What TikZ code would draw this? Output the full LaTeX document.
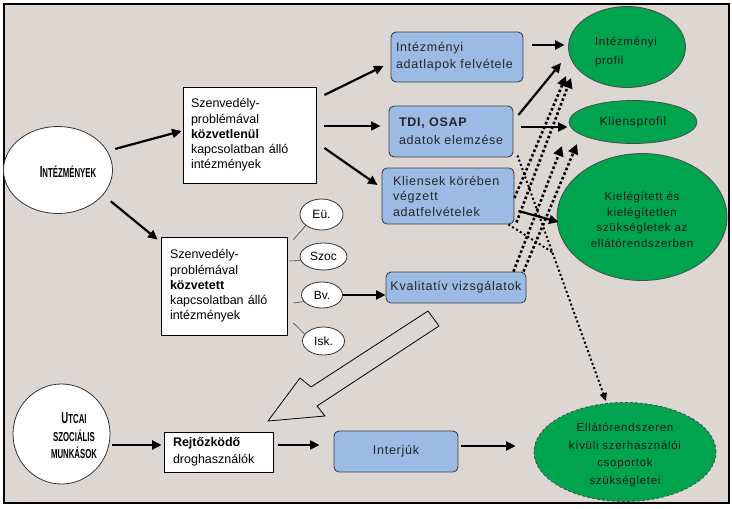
\documentclass[tikz,border=0pt]{standalone}
\usepackage{fontspec}
\setmainfont{Liberation Sans}
\newfontfamily\lsfont[LetterSpace=6]{Liberation Sans}
\newfontfamily\condfont[FakeStretch=0.6]{Liberation Sans}
\usetikzlibrary{shapes.geometric,arrows.meta,calc}
\definecolor{bgc}{RGB}{221,215,212}
\definecolor{bluec}{RGB}{155,186,228}
\definecolor{greenc}{RGB}{0,163,78}
\tikzset{
 wbox/.style={draw=black, line width=0.8pt, fill=white, align=left, inner ysep=0pt, font=\fontsize{12.5}{15.3}\selectfont},
 bbox/.style={draw=black!75, line width=0.9pt, fill=bluec, rounded corners=5pt, align=left, inner ysep=0pt, text=black!85, font=\lsfont\fontsize{12.5}{17}\selectfont},
 gell/.style={ellipse, draw=black!70, line width=0.8pt, fill=greenc, inner sep=0pt, align=center, text=black!90, font=\lsfont\fontsize{11.5}{17.5}\selectfont},
 gtxt/.style={inner sep=0pt, align=center, text=black!90, font=\lsfont\fontsize{11.5}{17.5}\selectfont},
 wel/.style={ellipse, draw=black!80, line width=0.8pt, fill=white, inner sep=0pt},
 sel/.style={wel, font=\fontsize{12}{14}\selectfont},
 captxt/.style={align=center, inner sep=0pt, font=\condfont\bfseries\fontsize{13}{17.5}\selectfont},
 arr/.style={line width=2.2pt, -{Triangle[length=9.5pt,width=9pt]}},
 dotarr/.style={line width=2.6pt, dash pattern=on 2.6pt off 2.4pt, -{Triangle[length=10pt,width=10pt]}},
 dotthin/.style={line width=2pt, dash pattern=on 2pt off 2.5pt},
 thinl/.style={line width=0.6pt, draw=black!75},
}
\begin{document}
\begin{tikzpicture}[x=1pt,y=-1pt]
\useasboundingbox (0,0) rectangle (732,509);
\fill[white] (0,0) rectangle (732,509);
\draw[fill=bgc, line width=1.3pt] (4,4) rectangle (729,503);

% white ellipses
\node[wel, minimum width=109pt, minimum height=87pt] (E1) at (58,170) {};
\node[captxt] (E1t) at (68,172) {{\fontsize{16}{17}\selectfont I}NTÉZMÉNYEK};
\node[wel, minimum width=97pt, minimum height=100pt] (E2) at (61.5,434) {};
\node[captxt] (E2t) at (74,436) {{\fontsize{16}{17.5}\selectfont U}TCAI\\SZOCIÁLIS\\MUNKÁSOK};

% white boxes
\node[wbox, text width=117pt, inner xsep=8pt, minimum height=96pt] (box1) at (249.5,135)
 {Szenvedély-\\problémával\\\textbf{közvetlenül}\\kapcsolatban álló\\intézmények};
\node[wbox, text width=108pt, inner xsep=9pt, minimum height=98pt] (box2) at (224,286)
 {Szenvedély-\\problémával\\\textbf{közvetett}\\kapcsolatban álló\\intézmények};
\node[wbox, text width=91pt, inner xsep=9pt, minimum height=40pt, font=\fontsize{12.5}{17}\selectfont] (Rbox) at (218.5,452)
 {\textbf{Rejtőzködő}\\droghasználók};

% small ellipses
\node[sel, minimum width=43pt, minimum height=31pt] (Eu) at (321.5,214.5) {Eü.};
\node[sel, minimum width=47pt, minimum height=27pt] (Szoc) at (323.5,256.5) {Szoc};
\node[sel, minimum width=41pt, minimum height=26pt] (Bv) at (322,295) {Bv.};
\node[sel, minimum width=42pt, minimum height=28pt] (Isk) at (323.5,341) {Isk.};

% blue boxes
\node[bbox, text width=122pt, inner xsep=5pt, minimum height=50pt] (B1) at (457,57)
 {Intézményi\\adatlapok felvétele};
\node[bbox, text width=104pt, inner xsep=10pt, minimum height=51pt, font=\lsfont\fontsize{12.5}{18}\selectfont] (B2) at (451,131.5)
 {\textbf{TDI, OSAP}\\adatok elemzése};
\node[bbox, text width=110pt, inner xsep=11pt, minimum height=56pt, font=\lsfont\fontsize{12.5}{15.5}\selectfont] (B3) at (448,196)
 {Kliensek körében\\végzett\\adatfelvételek};
\node[bbox, align=center, inner sep=0pt, minimum width=140pt, minimum height=31pt] (B4) at (456,287.5)
 {Kvalitatív vizsgálatok};
\node[bbox, align=center, inner sep=0pt, minimum width=124pt, minimum height=41pt] (B5) at (396,451.5)
 {Interjúk};

% green ellipses
\node[gell, minimum width=117pt, minimum height=81pt] (G1) at (627,47) {};
\node[gtxt, align=left, font=\lsfont\fontsize{11.5}{19}\selectfont] (G1t) at (626,52) {Intézményi\\profil};
\node[gell, minimum width=128pt, minimum height=43pt, font=\lsfont\fontsize{12}{14}\selectfont] (G2) at (633,122)
 {Kliensprofil};
\node[gell, minimum width=170pt, minimum height=127pt] (G3) at (642,217) {};
\node[gtxt, font=\lsfont\fontsize{11.5}{15.5}\selectfont] (G3t) at (642,220)
 {Kielégített és\\kielégítetlen\\szükségletek az\\ellátórendszerben};
\node[gell, densely dashed, minimum width=182pt, minimum height=99pt] (G4) at (625,452) {};
\node[gtxt] (G4t) at (625,455)
 {Ellátórendszeren\\kívüli szerhasználói\\csoportok\\szükségletei};

% hollow arrow
\draw[fill=bgc, line width=0.8pt, line join=miter] (428,311) -- (439,326) -- (317,406) -- (325,416)
 -- (268,421) -- (300,378) -- (311,387) -- cycle;

% thin connectors to small ellipses
\draw[thinl] ($(box2.north east)+(6,3)$) -- (Eu.215);
\draw[thinl] ($(box2.east)+(2,-25)$) -- (Szoc.190);
\draw[thinl] ($(box2.east)+(6,17)$) -- (Bv.200);
\draw[thinl] ($(box2.east)+(6,37)$) -- (Isk.160);

% solid arrows
\draw[arr, shorten <=8pt] (E1.21) -- ($(box1.west)+(-1,-4)$);
\draw[arr, shorten <=10pt] (E1.-29) -- ($(box2.north west)+(-3,3)$);
\draw[arr] ($(box1.east)+(8,-40)$) -- ($(B1.west)+(-7,9)$);
\draw[arr] ($(box1.east)+(8,-9)$) -- ($(B2.west)+(-8,-5.5)$);
\draw[arr] ($(box1.east)+(8,13)$) -- ($(B3.west)+(-4,-11)$);
\draw[arr] ($(B1.east)+(9,-12)$) -- ($(G1.west)+(-3.5,-2)$);
\draw[arr] ($(B2.east)+(5,-16.5)$) -- ($(G1.center)+(-66,16)$);
\draw[arr] ($(B2.east)+(8,-4.5)$) -- ($(G2.west)+(-1,5)$);
\draw[arr] ($(B3.east)+(4,15)$) -- ($(G3.west)+(2,5)$);
\draw[arr] (Bv.east) -- (Bv.east -| B4.west);
\draw[arr] ($(E2.east)+(2,11)$) -- ($(Rbox.west)+(-2,-7)$);
\draw[arr] ($(Rbox.east)+(5,-7)$) -- ($(B5.west)+(-14,-6.5)$);
\draw[arr] ($(B5.east)+(3,-5.5)$) -- ($(G4.west)+(-18,-6)$);

% dotted arrows
\draw[dotarr] ($(B3.east)+(0,2)$) -- ($(G1.center)+(-61,29)$);
\draw[dotarr] ($(B3.south east)+(2,-2)$) -- ($(G1.center)+(-56,31)$);
\draw[dotarr] ($(B4.north east)+(-13,0)$) -- ($(G2.center)+(-71,24)$);
\draw[dotarr] ($(B4.north east)+(-3,0)$) -- ($(G2.center)+(-56,22)$);
\coordinate (d3s) at ($(B2.south east)+(4,-2)$);
\coordinate (d3e) at ($(G4.north)+(-19,-1)$);
\draw[dotthin, -{Triangle[length=8pt,width=7pt]}] (d3s) -- (d3e);
\draw[dotthin] ($(B3.south east)+(-6,0)$) -- ($(d3s)!0.394!(d3e)$);
\end{tikzpicture}
\end{document}
